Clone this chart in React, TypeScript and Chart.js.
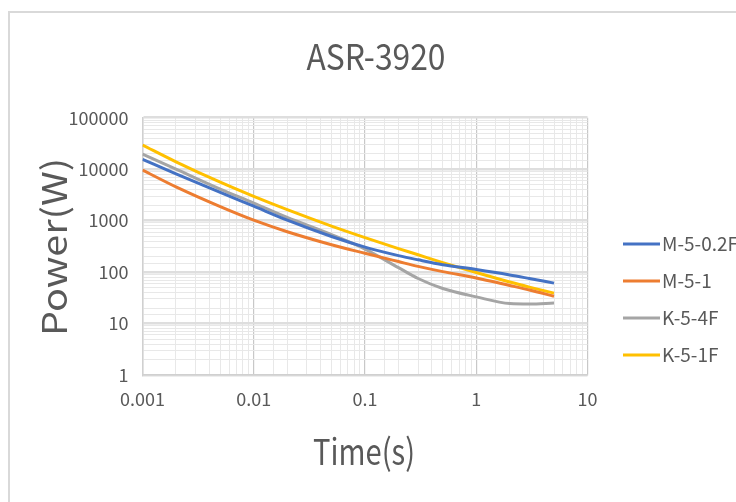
import React, { useEffect, useRef } from "react";
import { Chart, registerables } from "chart.js";

Chart.register(...registerables);

const times = [0.001, 0.002, 0.005, 0.01, 0.02, 0.05, 0.1, 0.2, 0.3, 0.5, 1, 2, 3, 5];
const seriesNames = ["M-5-0.2F", "M-5-1", "K-5-4F", "K-5-1F"];
const m502f = [15500, 8130, 3550, 1905, 1020, 491, 306, 209, 173, 139, 112, 88, 75, 61];
const m51 = [9600, 4520, 1870, 1020, 608, 340, 232, 160, 129, 102, 77, 55, 45, 34];
const k54f = [19600, 10000, 4100, 2190, 1150, 535, 280, 122, 75, 48, 33, 24.5, 24, 25];
const k51f = [29500, 13900, 5570, 2950, 1630, 783, 468, 286, 217, 153, 98, 64, 51, 39];
const seriesColors = ["#4472C4", "#ED7D31", "#A5A5A5", "#FFC000"];
const xTickLabels = ["0.001", "0.01", "0.1", "1", "10"];
const yTickLabels = ["1", "10", "100", "1000", "10000", "100000"];
const chartTitle = "ASR-3920";
const xTitle = "Time(s)";
const yTitle = "Power(W)";

const FONT = "'Noto Sans CJK SC', 'Noto Sans', sans-serif";
const TEXT = "#595959";

const isPow10 = (v: number) => {
  const l = Math.log10(v);
  return Math.abs(l - Math.round(l)) < 1e-9;
};
const fmt = (v: number) => String(+v.toPrecision(6));

function stretchedText(ctx: any, text: string, x: number, y: number, size: number, width: number, rot: number) {
  ctx.save();
  ctx.font = `${size}px ${FONT}`;
  ctx.fillStyle = TEXT;
  ctx.textAlign = "center";
  ctx.textBaseline = "middle";
  const w = ctx.measureText(text).width;
  ctx.translate(x, y);
  ctx.rotate(rot);
  ctx.scale(width / w, 1);
  ctx.fillText(text, 0, 0);
  ctx.restore();
}

const decorPlugin = {
  id: "decor",
  afterDraw(chart: any) {
    const ctx = chart.ctx;
    stretchedText(ctx, chartTitle, 376, 56, 36, 139, 0);
    stretchedText(ctx, xTitle, 364, 451, 36, 102, 0);
    stretchedText(ctx, yTitle, 54, 247, 34, 178, -Math.PI / 2);
    ctx.save();
    chart.data.datasets.forEach((ds: any, i: number) => {
      const y = 244 + i * 37;
      ctx.strokeStyle = ds.borderColor;
      ctx.lineWidth = 3;
      ctx.beginPath();
      ctx.moveTo(623, y);
      ctx.lineTo(660, y);
      ctx.stroke();
      ctx.fillStyle = TEXT;
      ctx.font = `19px ${FONT}`;
      ctx.textBaseline = "middle";
      ctx.textAlign = "left";
      ctx.fillText(ds.label, 662, y);
    });
    ctx.restore();
  },
};

export default function App() {
  const ref = useRef<HTMLCanvasElement>(null);
  useEffect(() => {
    if (!ref.current) return;
    const all = [m502f, m51, k54f, k51f];
    const chart = new Chart(ref.current, {
      type: "line",
      data: {
        datasets: all.map((vals, i) => ({
          label: seriesNames[i],
          data: times.map((t, j) => ({ x: t, y: vals[j] })),
          borderColor: seriesColors[i],
          backgroundColor: seriesColors[i],
          borderWidth: 3,
          pointRadius: 0,
          cubicInterpolationMode: "monotone" as const,
          fill: false,
        })),
      },
      options: {
        animation: false,
        responsive: false,
        devicePixelRatio: 1,
        layout: { padding: { left: 10, right: 148.5, top: 117.7, bottom: 0 } },
        plugins: {
          legend: { display: false },
          tooltip: { enabled: false },
          title: { display: false },
        },
        scales: {
          x: {
            type: "logarithmic",
            min: 0.001,
            max: 10,
            afterFit(scale: any) {
              scale.height = 127;
            },
            grid: {
              drawTicks: false,
              color: (c: any) => (c.tick && isPow10(c.tick.value) ? "#c8c8c8" : "#e8e8e8"),
              lineWidth: (c: any) => (c.tick && isPow10(c.tick.value) ? 1.2 : 1),
            },
            border: { display: true, color: "#d0d0d0", width: 1.5 },
            ticks: {
              autoSkip: false,
              maxRotation: 0,
              padding: 13,
              color: TEXT,
              font: { family: FONT, size: 18 },
              callback: (v: any) => {
                const s = fmt(Number(v));
                return isPow10(Number(v)) && xTickLabels.includes(s) ? s : "";
              },
            },
          },
          y: {
            type: "logarithmic",
            min: 1,
            max: 100000,
            afterFit(scale: any) {
              scale.width = 132.5;
            },
            grid: {
              drawTicks: false,
              color: (c: any) => (c.tick && isPow10(c.tick.value) ? "#dedede" : "#e8e8e8"),
              lineWidth: (c: any) => (c.tick && isPow10(c.tick.value) ? 2.5 : 1),
            },
            border: { display: true, color: "#d0d0d0", width: 1.5 },
            ticks: {
              autoSkip: false,
              padding: 14,
              color: TEXT,
              font: { family: FONT, size: 18 },
              callback: (v: any) => {
                const s = fmt(Number(v));
                return isPow10(Number(v)) && yTickLabels.includes(s) ? s : "";
              },
            },
          },
        },
      },
      plugins: [decorPlugin],
    });
    return () => chart.destroy();
  }, []);

  return (
    <div style={{ position: "fixed", left: 0, top: 0, width: 736, height: 502, overflow: "hidden", background: "#fff" }}>
      <div
        style={{
          position: "absolute",
          left: 8,
          top: 11,
          width: 760,
          height: 520,
          borderTop: "2px solid #d9d9d9",
          borderLeft: "2px solid #d9d9d9",
        }}
      />
      <canvas ref={ref} width={736} height={502} style={{ position: "absolute", left: 0, top: 0 }} />
    </div>
  );
}
